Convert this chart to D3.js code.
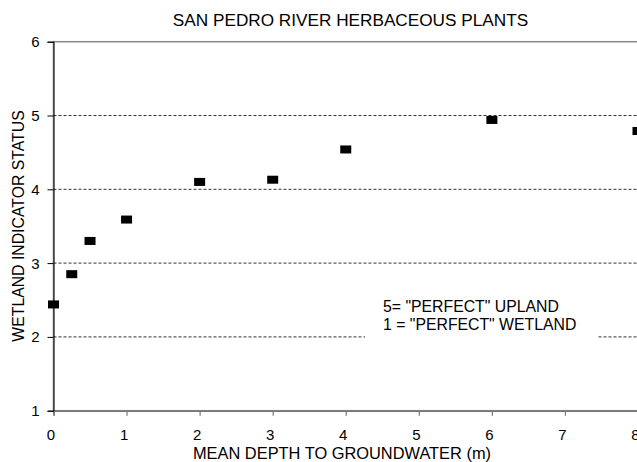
<!DOCTYPE html>
<html>
<head>
<meta charset="utf-8">
<script src="https://cdn.jsdelivr.net/npm/d3@7"></script>
<style>
  html, body { margin: 0; padding: 0; background: #fff; }
  svg { display: block; font-family: "Liberation Sans", Arial, sans-serif; }
</style>
</head>
<body>
<div id="chart"></div>
<script>
const depth = [0, 0.25, 0.5, 1, 2, 3, 4, 6, 8];
const status = [2.44, 2.85, 3.30, 3.59, 4.10, 4.13, 4.54, 4.94, 4.79];
const xTicks = [0, 1, 2, 3, 4, 5, 6, 7, 8];
const yTicks = [1, 2, 3, 4, 5, 6];
const gridVals = [2, 3, 4, 5];
const noteLines = ['5= "PERFECT" UPLAND', '1 = "PERFECT" WETLAND'];

const title = 'SAN PEDRO RIVER HERBACEOUS PLANTS';
const xTitle = 'MEAN DEPTH TO GROUNDWATER (m)';
const yTitle = 'WETLAND INDICATOR STATUS';

const width = 637, height = 462;

const svg = d3.select('#chart').append('svg')
  .attr('width', width)
  .attr('height', height);

const x = d3.scaleLinear().domain([0, 8]).range([53.5, 638]);
const y = d3.scaleLinear().domain([1, 6]).range([410.7, 41.7]);

// plot border (gray)
svg.append('rect')
  .attr('x', x(0)).attr('y', y(6))
  .attr('width', x(8) - x(0)).attr('height', y(1) - y(6))
  .attr('fill', 'none')
  .attr('stroke', '#888')
  .attr('stroke-width', 1.5);

// dashed gridlines
svg.append('g').selectAll('line')
  .data(gridVals)
  .enter().append('line')
  .attr('x1', x(0)).attr('x2', x(8))
  .attr('y1', d => y(d)).attr('y2', d => y(d))
  .attr('stroke', '#333')
  .attr('stroke-width', 1)
  .attr('stroke-dasharray', '3,2');

// note box covers the gridline
svg.append('rect')
  .attr('x', 365).attr('y', 294)
  .attr('width', 232).attr('height', 46)
  .attr('fill', '#fff');

svg.append('text')
  .attr('font-size', 15.8)
  .attr('fill', '#000')
  .selectAll('tspan')
  .data(noteLines)
  .enter().append('tspan')
  .attr('x', 383)
  .attr('y', (d, i) => 312 + i * 18)
  .text(d => d);

// x axis
const xAxis = svg.append('g')
  .attr('transform', `translate(0,${y(1)})`)
  .call(d3.axisBottom(x).tickValues(xTicks).tickSize(5).tickFormat(''));
xAxis.select('.domain').attr('stroke', '#777').attr('stroke-width', 1.5);
xAxis.selectAll('.tick line').attr('stroke', '#777').attr('stroke-width', 1.2);

svg.append('g').selectAll('text')
  .data(xTicks)
  .enter().append('text')
  .attr('text-anchor', 'middle')
  .attr('font-size', 15)
  .attr('x', d => x(d) - 2.5)
  .attr('y', 440)
  .text(d => d);

// y axis
const yAxis = svg.append('g')
  .attr('transform', `translate(${x(0)},0)`)
  .call(d3.axisLeft(y).tickValues(yTicks).tickSize(6).tickFormat(''));
yAxis.select('.domain').attr('stroke', '#000').attr('stroke-width', 1);
yAxis.selectAll('.tick line').attr('stroke', '#000');

svg.append('g').selectAll('text')
  .data(yTicks)
  .enter().append('text')
  .attr('text-anchor', 'end')
  .attr('font-size', 15)
  .attr('dy', '0.36em')
  .attr('x', 39.5)
  .attr('y', d => y(d))
  .text(d => d);

// markers
svg.append('g').selectAll('rect')
  .data(depth)
  .enter().append('rect')
  .attr('x', d => x(d) - 5.5)
  .attr('y', (d, i) => y(status[i]) - 4)
  .attr('width', 11)
  .attr('height', 8)
  .attr('fill', '#000');

// titles
svg.append('text')
  .attr('text-anchor', 'middle')
  .attr('font-size', 17.2)
  .attr('x', 350.5)
  .attr('y', 26)
  .text(title);

svg.append('text')
  .attr('text-anchor', 'middle')
  .attr('font-size', 16.4)
  .attr('x', 342)
  .attr('y', 459)
  .text(xTitle);

svg.append('text')
  .attr('text-anchor', 'middle')
  .attr('font-size', 15.8)
  .attr('transform', 'translate(24,226) rotate(-90)')
  .text(yTitle);
</script>
</body>
</html>
